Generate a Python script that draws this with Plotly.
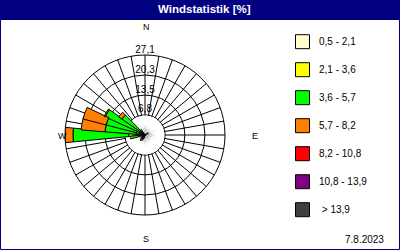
import numpy as np
import plotly.graph_objects as go

# ---------------- data ----------------
directions = list(range(0, 360, 10))  # degrees, 36 sectors
classes = ["0,5 - 2,1", "2,1 - 3,6", "3,6 - 5,7", "5,7 - 8,2", "8,2 - 10,8", "10,8 - 13,9", " > 13,9"]
colors = ["#FFFFCC", "#FFFF00", "#00FF00", "#FF8000", "#FF0000", "#800080", "#404040"]

#            0    10   20   30   40   50   60   70   80   90  100  110  120  130  140  150  160  170  180  190  200  210  220  230  240  250  260  270  280  290  300  310  320  330  340  350
v_05_21  = [0.0, 0.0, 0.0, 0.0, 0.0, 0.0, 0.5, 0.0, 0.0, 0.3, 0.0, 0.0, 0.0, 0.0, 0.0, 0.0, 0.0, 0.0, 0.0, 0.0, 1.2, 2.0, 2.4, 1.8, 1.2, 1.0, 1.0, 2.5, 1.5, 1.5, 1.0, 1.0, 0.8, 0.5, 0.0, 0.0]
v_21_36  = [0.0, 0.0, 0.0, 0.0, 0.0, 0.0, 0.8, 0.0, 0.0, 0.0, 0.0, 0.0, 0.0, 0.0, 0.0, 0.0, 0.0, 0.0, 0.0, 0.0, 0.0, 0.0, 0.0, 0.0, 0.0, 0.0, 0.0, 3.0, 1.5, 1.5, 1.0, 0.5, 0.0, 0.0, 0.0, 0.0]
v_36_57  = [0.0, 0.0, 0.0, 0.0, 0.0, 0.0, 0.0, 0.0, 0.0, 0.0, 0.0, 0.0, 0.0, 0.0, 0.0, 0.0, 0.0, 0.0, 0.0, 0.0, 0.0, 0.0, 0.0, 0.0, 0.0, 0.0, 4.0, 18.9, 10.6, 10.6, 12.8, 8.0, 1.5, 0.0, 0.0, 0.0]
v_57_82  = [0.0, 0.0, 0.0, 0.0, 0.0, 0.0, 0.0, 0.0, 0.0, 0.0, 0.0, 0.0, 0.0, 0.0, 0.0, 0.0, 0.0, 0.0, 0.0, 0.0, 0.0, 0.0, 0.0, 0.0, 0.0, 0.0, 0.0, 2.7, 8.1, 8.1, 0.4, 1.3, 0.0, 0.0, 0.0, 0.0]
v_82_108 = [0.0] * 36
v_108_139 = [0.0] * 36
v_gt_139 = [0.0] * 36

series = [v_05_21, v_21_36, v_36_57, v_57_82, v_82_108, v_108_139, v_gt_139]

ring_values = [6.8, 13.5, 20.3, 27.1]
ring_labels = ["6,8", "13,5", "20,3", "27,1"]
date_text = "7.8.2023"
title_text = "Windstatistik [%]"

# ---------------- layout helpers ----------------
W, H = 400, 250
def px(x):
    return x / W
def py(y):
    return 1 - y / H

FONT = "Liberation Sans"
NAVY = "#000080"

fig = go.Figure()

# white mask so the spokes do not reach inside the first ring
fig.add_trace(go.Barpolar(
    r=[ring_values[0] * 0.97] * len(directions), theta=directions, width=[10.5] * len(directions),
    marker=dict(color="white", line=dict(width=0)), showlegend=False, hoverinfo="skip"))

# stacked wind bars (overlay with explicit base)
base = np.zeros(len(directions))
for name, col, vals in zip(classes, colors, series):
    vals = np.array(vals)
    mask = vals > 0
    if mask.any():
        fig.add_trace(go.Barpolar(
            r=vals[mask], base=base[mask], theta=np.array(directions)[mask],
            width=[11] * int(mask.sum()), name=name,
            marker=dict(color=col, line=dict(color="black", width=1)),
            showlegend=False))
    base = base + vals

# ring labels on the north axis
fig.add_trace(go.Scatterpolar(
    r=ring_values, theta=[0] * len(ring_values), mode="text", text=ring_labels,
    textposition="top center", textfont=dict(family=FONT, size=10, color="black"),
    showlegend=False, hoverinfo="skip", cliponaxis=False))

fig.update_layout(
    width=W, height=H,
    margin=dict(l=0, r=0, t=0, b=0),
    paper_bgcolor="white",
    showlegend=False,
    polar=dict(
        domain=dict(x=[px(65), px(225)], y=[py(215), py(55)]),
        bgcolor="white",
        barmode="overlay",
        angularaxis=dict(rotation=90, direction="clockwise", tickmode="array",
                         tickvals=directions, showticklabels=False, ticks="",
                         showgrid=True, gridcolor="black", gridwidth=1,
                         showline=True, linecolor="black", linewidth=1),
        radialaxis=dict(range=[0, ring_values[-1]], tickmode="array", tickvals=ring_values,
                        showticklabels=False, ticks="", showline=False,
                        showgrid=True, gridcolor="black", gridwidth=1),
    ),
)

shapes = []
annotations = []
# title band and border
shapes.append(dict(type="rect", xref="paper", yref="paper", x0=0, x1=1, y0=py(20), y1=1,
                   fillcolor=NAVY, line=dict(width=0), layer="above"))
shapes.append(dict(type="rect", xref="paper", yref="paper", x0=px(0.5), x1=px(399.5), y0=py(249.5), y1=py(0.5),
                   fillcolor="rgba(0,0,0,0)", line=dict(color=NAVY, width=1), layer="above"))
annotations.append(dict(text="<b>" + title_text + "</b>", x=px(205), y=py(9), xref="paper", yref="paper",
                        showarrow=False, xanchor="center", yanchor="middle",
                        font=dict(family=FONT, size=11.5, color="white")))

# compass labels
for lab, x, y in [("N", 146, 27), ("W", 62, 136), ("E", 255, 136), ("S", 146, 239)]:
    annotations.append(dict(text=lab, x=px(x), y=py(y), xref="paper", yref="paper", showarrow=False,
                            xanchor="center", yanchor="middle", font=dict(family=FONT, size=9, color="black")))

# legend
for i, (name, col) in enumerate(zip(classes, colors)):
    yc = 41.7 + 28 * i
    shapes.append(dict(type="rect", xref="paper", yref="paper", x0=px(295.5), x1=px(309.5),
                       y0=py(yc + 7), y1=py(yc - 7), fillcolor=col, line=dict(color="black", width=1)))
    annotations.append(dict(text=name.replace(" ", "&nbsp;") if name.startswith(" ") else name,
                            x=px(316.5), y=py(yc), xref="paper", yref="paper", showarrow=False,
                            xanchor="left", yanchor="middle", font=dict(family=FONT, size=10, color="black")))

annotations.append(dict(text=date_text, x=px(386), y=py(239), xref="paper", yref="paper", showarrow=False,
                        xanchor="right", yanchor="middle", font=dict(family=FONT, size=10, color="black")))

fig.update_layout(shapes=shapes, annotations=annotations)
fig.write_html("out.html")
